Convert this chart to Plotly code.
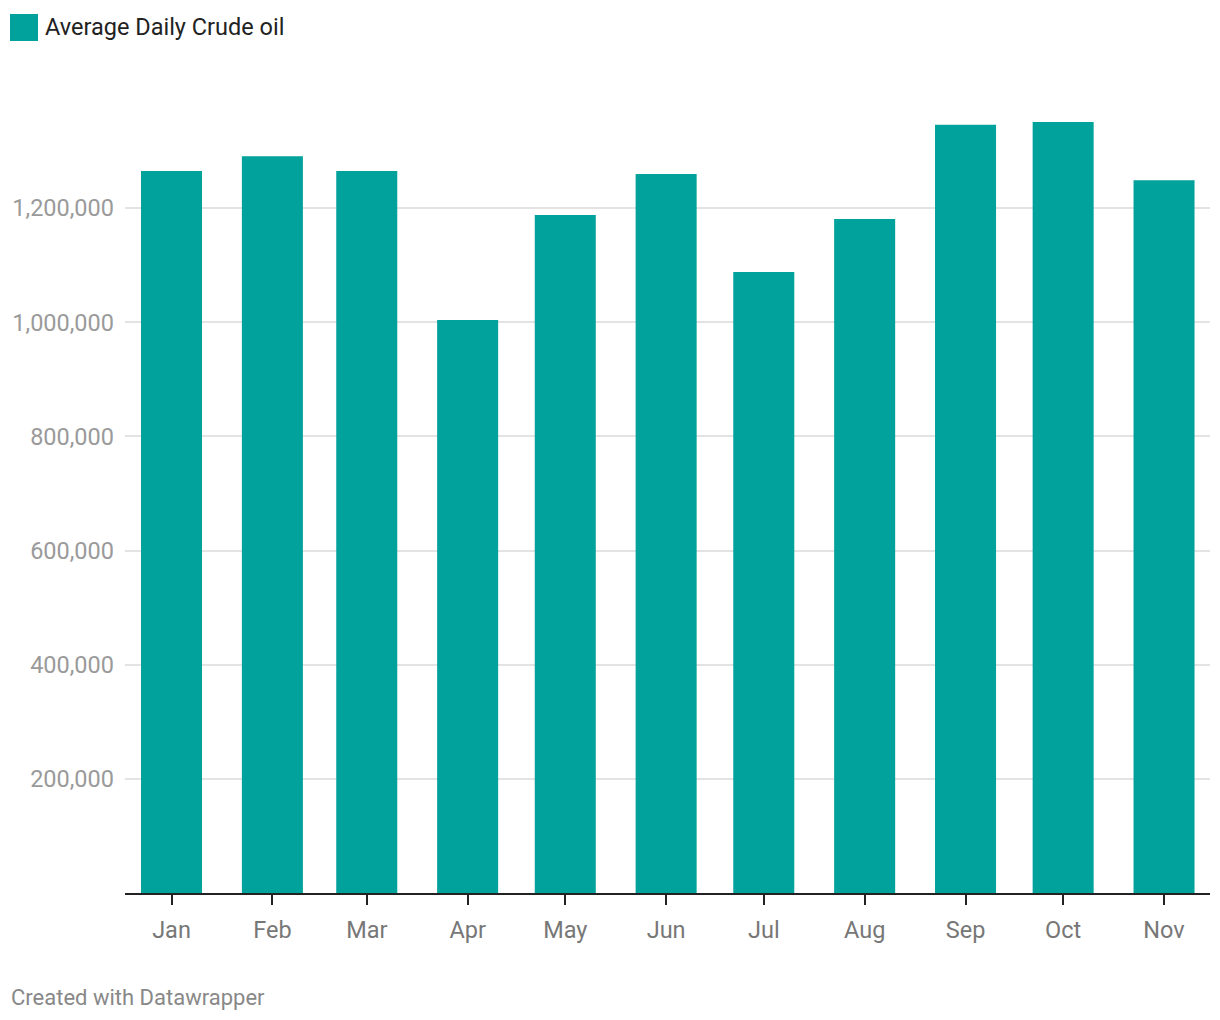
import plotly.graph_objects as go

months = ["2020-01-01", "2020-02-01", "2020-03-01", "2020-04-01", "2020-05-01", "2020-06-01",
          "2020-07-01", "2020-08-01", "2020-09-01", "2020-10-01", "2020-11-01"]
month_labels = ["Jan", "Feb", "Mar", "Apr", "May", "Jun", "Jul", "Aug", "Sep", "Oct", "Nov"]
crude_oil = [1265000, 1291000, 1265000, 1004000, 1188000, 1260000, 1088000, 1181000, 1346000, 1351000, 1249000]
y_ticks = [200000, 400000, 600000, 800000, 1000000, 1200000]
y_tick_labels = ["200,000", "400,000", "600,000", "800,000", "1,000,000", "1,200,000"]
series_name = "Average Daily Crude oil"

BAR = "#01a29b"
FONT = "Roboto"

fig = go.Figure()
fig.add_trace(go.Bar(
    x=months, y=crude_oil, name=series_name,
    marker=dict(color=BAR, line=dict(width=0)),
    width=18.75 * 86400000, showlegend=False,
))

fig.update_layout(
    width=1212, height=1012,
    margin=dict(l=117, r=10, t=86, b=127),
    paper_bgcolor="white", plot_bgcolor="white",
    font=dict(family=FONT),
    xaxis=dict(
        type="date", automargin=False,
        range=["2019-12-17 17:00", "2020-11-15 03:00"],
        tickvals=months, ticktext=month_labels,
        showline=True, linecolor="#222", linewidth=2,
        ticks="outside", ticklen=10, tickwidth=2, tickcolor="#222",
        ticklabelstandoff=5,
        tickfont=dict(size=23.5, color="#777", family=FONT),
        showgrid=False, zeroline=False,
    ),
    yaxis=dict(
        range=[0, 1400000], automargin=False,
        tickvals=y_ticks, ticktext=y_tick_labels,
        showgrid=True, gridcolor="#e3e3e3", gridwidth=1.5,
        zeroline=False, showline=False, ticks="",
        ticklabelstandoff=10,
        tickfont=dict(size=23.5, color="#9a9a9a", family=FONT),
    ),
    shapes=[dict(type="rect", xref="paper", yref="paper",
                 x0=-115 / 1085, x1=-87 / 1085,
                 y0=(1020 - 127 - 41) / 799, y1=(1020 - 127 - 14) / 799,
                 fillcolor=BAR, line=dict(width=0))],
    annotations=[
        dict(text=series_name, xref="paper", yref="paper",
             x=-82 / 1085, y=(1020 - 127 - 27) / 799, xanchor="left", yanchor="middle",
             showarrow=False, font=dict(size=23.5, color="#222", family=FONT)),
        dict(text="Created with Datawrapper", xref="paper", yref="paper",
             x=-116 / 1085, y=-(997 - 893) / 799, xanchor="left", yanchor="middle",
             showarrow=False, font=dict(size=22, color="#888", family=FONT)),
    ],
)

fig.write_html("out.html")
